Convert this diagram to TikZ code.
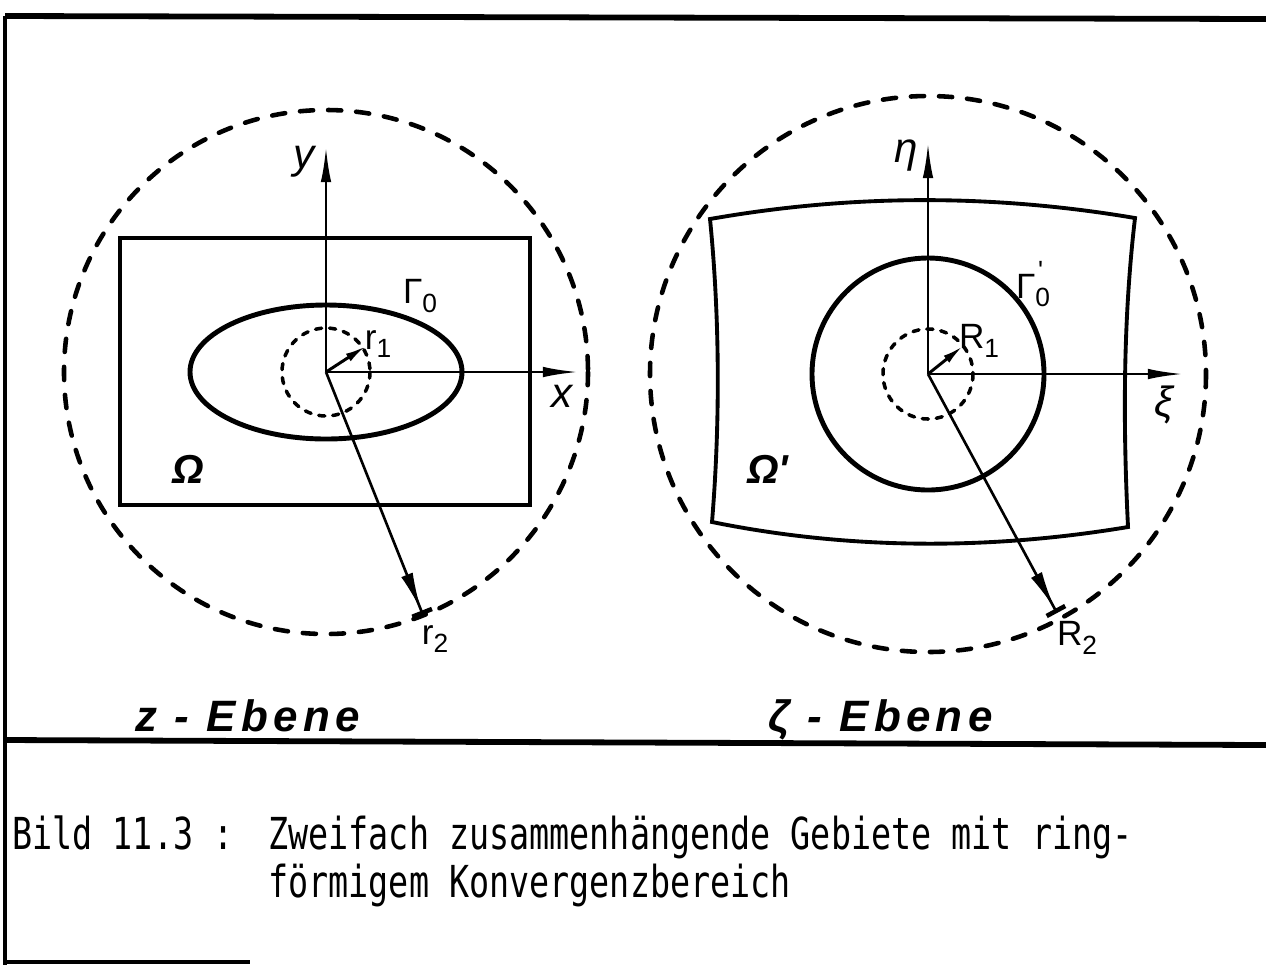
\documentclass[tikz,border=0pt]{standalone}
\usepackage{fontspec}
\usetikzlibrary{arrows.meta}
\newfontfamily\labf{Liberation Sans}
\newfontfamily\capf{DejaVu Sans Mono}
\newfontfamily\titf[LetterSpace=12]{Liberation Sans}
\newcommand\lsub[1]{\raisebox{-0.45ex}{\fontsize{15pt}{15pt}\selectfont #1}}
\begin{document}
\begin{tikzpicture}[x=0.02cm,y=-0.02cm,
  frame/.style={line width=3.3pt},
  bigdash/.style={line width=2.6pt, line cap=round, dash pattern=on 7.5pt off 8.5pt},
  smalldash/.style={line width=2pt, line cap=round, dash pattern=on 3.5pt off 4.5pt},
  bound/.style={line width=2.2pt},
  curveline/.style={line width=2.8pt},
  axisline/.style={line width=1.5pt, -{Latex[length=20pt,width=6pt]}},
  rsmall/.style={line width=1.7pt, -{Latex[length=12pt,width=5pt]}},
  rbig/.style={line width=1.5pt, -{Latex[length=22pt,width=7pt]Bar[width=12pt,line width=2.6pt]}},
  lab/.style={inner sep=0pt, font=\labf\fontsize{20pt}{20pt}\selectfont},
  axlab/.style={inner sep=0pt, font=\labf\itshape\fontsize{24pt}{24pt}\selectfont},
  omlab/.style={inner sep=0pt, font=\labf\bfseries\itshape\fontsize{23pt}{23pt}\selectfont},
  titlab/.style={inner sep=0pt, anchor=base west, font=\titf\bfseries\itshape\fontsize{25pt}{25pt}\selectfont},
  caplab/.style={inner sep=0pt, anchor=base west, font=\capf\fontsize{19pt}{19pt}\selectfont}
]
\useasboundingbox (0,0) rectangle (1266,965);
% frame
\coordinate (f1) at (5,16);
\coordinate (f2) at (1266,19);
\coordinate (f3) at (5,965);
\coordinate (f4) at (5,740);
\coordinate (f5) at (1266,745);
\coordinate (f6) at (5,962);
\coordinate (f7) at (250,962);
\draw[frame] (f1) -- (f2);
\draw[line width=2.6pt] (f1) -- (f3);
\draw[frame] (f4) -- (f5);
\draw[line width=2pt] (f6) -- (f7);

% ---------- left: z-plane ----------
\coordinate (O1) at (326,372);
\draw[bigdash] (O1) circle [radius=262];
\draw[bound] (120,238) rectangle (530,505);
\draw[curveline] (O1) ellipse [x radius=136, y radius=67];
\draw[smalldash] (O1) circle [radius=44];
\coordinate (ytip) at (326,147);
\coordinate (xtip) at (578,372);
\coordinate (r1tip) at (366,346);
\coordinate (r2tip) at (423,615);
\draw[axisline] (O1) -- (ytip);
\draw[axisline] (O1) -- (xtip);
\draw[rsmall] (O1) -- (r1tip);
\draw[rbig] (O1) -- (r2tip);
\node[axlab] (ylab) at (304,162) {y};
\node[axlab] (xlab) at (562,396) {x};
\node[lab] (g0) at (420,296) {Γ\lsub{0}};
\node[lab] (r1) at (378,344) {r\lsub{1}};
\node[lab] (r2) at (435,639) {r\lsub{2}};
\node[omlab] (om) at (188,469) {Ω};
\node[titlab] (zt) at (135,731) {z - Ebene};

% ---------- right: zeta-plane ----------
\coordinate (O2) at (928,374);
\draw[bigdash] (O2) circle [radius=278];
\draw[bound] (710,219) .. controls (852,194) and (993,194) .. (1135,218)
  .. controls (1123,320) and (1123,425) .. (1128,527)
  .. controls (990,550) and (850,550) .. (712,522)
  .. controls (720,425) and (720,320) .. cycle;
\draw[curveline] (O2) circle [radius=116];
\draw[smalldash] (O2) circle [radius=45];
\coordinate (etatip) at (928,143);
\coordinate (xitip) at (1183,374);
\coordinate (R1tip) at (963,346);
\coordinate (R2tip) at (1057,613);
\draw[axisline] (O2) -- (etatip);
\draw[axisline] (O2) -- (xitip);
\draw[rsmall] (O2) -- (R1tip);
\draw[rbig] (O2) -- (R2tip);
\node[axlab] (etalab) at (906,156) {η};
\node[axlab] (xilab) at (1164,405) {ξ};
\node[lab] (g0p) at (1033,284) {Γ\makebox[0pt][l]{\raisebox{1.0ex}{\fontsize{15pt}{15pt}\selectfont\kern1.5pt '}}\lsub{0}};
\node[lab] (R1) at (979,341) {R\lsub{1}};
\node[lab] (R2) at (1077,638) {R\lsub{2}};
\node[omlab] (omp) at (768,469) {Ω'};
\node[titlab] (zetat) at (768,731) {ζ - Ebene};

% ---------- caption ----------
\node[caplab] (c1) at (12,849) {\scalebox{1}[1.32]{Bild 11.3 :}};
\node[caplab] (c2) at (268,849) {\scalebox{1}[1.32]{Zweifach zusammenhängende Gebiete mit ring-}};
\node[caplab] (c3) at (268,897) {\scalebox{1}[1.32]{förmigem Konvergenzbereich}};
\end{tikzpicture}
\end{document}
